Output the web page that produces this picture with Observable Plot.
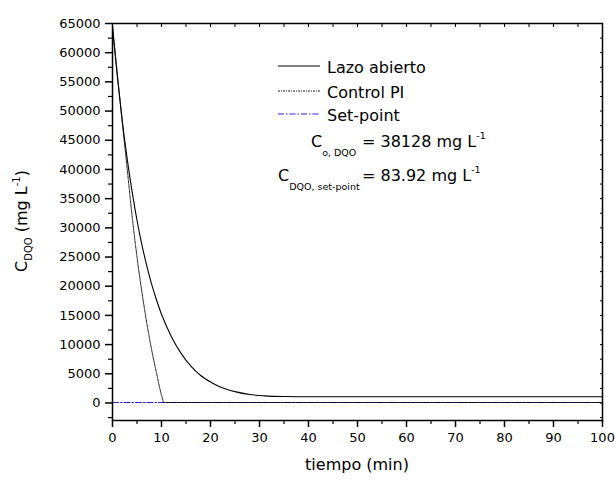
<!DOCTYPE html>
<html>
<head>
<meta charset="utf-8">
<script src="https://cdn.jsdelivr.net/npm/d3@7"></script>
<script src="https://cdn.jsdelivr.net/npm/@observablehq/plot@0.6"></script>
<style>
  html, body { margin: 0; padding: 0; background: #fff; }
  #chart svg { display: block; }
</style>
</head>
<body>
<div id="chart"></div>
<script>
// ---- data ----
// Lazo abierto (open loop)
const lazoT = [0, 1, 2, 3, 4, 5, 6, 7, 8, 9, 10, 12, 14, 16, 18, 20, 22, 25, 28, 31, 35, 40, 50, 60, 70, 80, 90, 100];
const lazoV = [64400, 55800, 48300, 41800, 36200, 31300, 27100, 23500, 20300, 17600, 15200, 11400, 8500, 6300, 4700, 3600, 2750, 1950, 1450, 1220, 1100, 1070, 1060, 1060, 1060, 1060, 1060, 1060];
// Control PI
const piT = [0, 1, 2, 3, 4, 5, 6, 7, 8, 9, 10, 10.5, 20, 40, 60, 80, 100];
const piV = [64400, 56300, 48000, 40100, 32000, 25000, 19000, 13700, 9050, 5050, 1350, 84, 84, 84, 84, 84, 84];
// Set-point
const setT = [0, 100];
const setV = [83.92, 83.92];

// axis ticks
const xTicks = [0, 10, 20, 30, 40, 50, 60, 70, 80, 90, 100];
const xMinor = [5, 15, 25, 35, 45, 55, 65, 75, 85, 95];
const yTicks = [0, 5000, 10000, 15000, 20000, 25000, 30000, 35000, 40000, 45000, 50000, 55000, 60000, 65000];
const yMinor = [-2500, 2500, 7500, 12500, 17500, 22500, 27500, 32500, 37500, 42500, 47500, 52500, 57500, 62500];

// legend / annotation texts
const seriesNames = ["Lazo abierto", "Control PI", "Set-point"];
const coLabel = { main: "C", sub: "o, DQO", rest: "= 38128 mg L", sup: "-1" };
const spLabel = { main: "C", sub: "DQO, set-point", rest: "= 83.92 mg L", sup: "-1" };
const xLabel = "tiempo (min)";

const lazo = lazoT.map((t, i) => ({ t, v: lazoV[i] }));
const pi = piT.map((t, i) => ({ t, v: piV[i] }));
const sp = setT.map((t, i) => ({ t, v: setV[i] }));

const font = '"DejaVu Sans", Verdana, sans-serif';
const blue = "#2020e0";
const piDash = "2,1,1,1";
const spDash = "6,2,1.5,2";

const fmt = d3.format("d");
const blank = () => "";

const plot = Plot.plot({
  width: 615,
  height: 481,
  marginLeft: 112,
  marginRight: 13,
  marginTop: 23,
  marginBottom: 61,
  style: { fontFamily: font, fontSize: "13px", color: "#000", background: "#fff", overflow: "visible" },
  x: { domain: [0, 100] },
  y: { domain: [-3000, 65000] },
  marks: [
    Plot.line(sp, { x: "t", y: "v", stroke: blue, strokeWidth: 1, strokeDasharray: spDash }),
    Plot.line(lazo, { x: "t", y: "v", stroke: "#000", strokeWidth: 1.1, curve: "monotone-x" }),
    Plot.line(pi, { x: "t", y: "v", stroke: "#000", strokeWidth: 0.9, strokeDasharray: piDash, curve: "monotone-x" }),
    Plot.frame({ stroke: "#000", strokeWidth: 1.5 }),
    Plot.axisX(xTicks, { anchor: "bottom", tickSize: 7, tickPadding: 5, tickFormat: fmt, label: null, strokeWidth: 1.5, fontSize: 13 }),
    Plot.axisX(xMinor, { anchor: "bottom", tickSize: 4, tickFormat: blank, label: null, strokeWidth: 1.2 }),
    Plot.axisY(yTicks, { anchor: "left", tickSize: 7, tickPadding: 5, tickFormat: fmt, label: null, strokeWidth: 1.5, fontSize: 13 }),
    Plot.axisY(yMinor, { anchor: "left", tickSize: 4, tickFormat: blank, label: null, strokeWidth: 1.2 }),
    Plot.axisX(xTicks.concat(xMinor), { anchor: "top", tickSize: 3, dy: 3, tickFormat: blank, label: null, strokeWidth: 1 }),
    Plot.axisY(yTicks.concat(yMinor), { anchor: "right", tickSize: 3, dx: -3, tickFormat: blank, label: null, strokeWidth: 1 })
  ]
});

document.getElementById("chart").appendChild(plot);

// ---- legend and annotations ----
const svg = d3.select(plot);
const g = svg.append("g")
  .attr("font-family", font)
  .attr("fill", "#000")
  .attr("text-anchor", "start");

const legendRows = [
  { name: seriesNames[0], y: 66, stroke: "#000", dash: null, w: 1.1 },
  { name: seriesNames[1], y: 91, stroke: "#000", dash: piDash, w: 0.9 },
  { name: seriesNames[2], y: 114, stroke: blue, dash: spDash, w: 1 }
];
legendRows.forEach(r => {
  g.append("line")
    .attr("x1", 278).attr("x2", 320).attr("y1", r.y).attr("y2", r.y)
    .attr("stroke", r.stroke).attr("stroke-width", r.w)
    .attr("stroke-dasharray", r.dash);
  g.append("text")
    .attr("x", 327).attr("y", r.y + 6.5)
    .attr("font-size", 16)
    .text(r.name);
});

function annot(lbl, xC, yBase) {
  const t = g.append("text").attr("y", yBase).attr("font-size", 16).attr("text-anchor", "start");
  t.append("tspan").attr("x", xC).text(lbl.main);
  t.append("tspan").attr("font-size", 9.5).attr("dy", 9).text(lbl.sub);
  t.append("tspan").attr("x", 362).attr("dy", -9).text(lbl.rest);
  t.append("tspan").attr("font-size", 9.5).attr("dy", -8).text(lbl.sup);
}
annot(coLabel, 311, 147);
annot(spLabel, 278, 180.5);

// x axis title
g.append("text")
  .attr("x", 357).attr("y", 470)
  .attr("text-anchor", "middle")
  .attr("font-size", 16)
  .text(xLabel);

// y axis title: C_DQO (mg L^-1)
const yl = g.append("text")
  .attr("transform", "translate(27,221) rotate(-90)")
  .attr("text-anchor", "middle")
  .attr("font-size", 16);
yl.append("tspan").text("C");
yl.append("tspan").attr("font-size", 10).attr("dy", 5).text("DQO");
yl.append("tspan").attr("dy", -5).text(" (mg L");
yl.append("tspan").attr("font-size", 10).attr("dy", -7).text("-1");
yl.append("tspan").attr("dy", 7).text(")");
</script>
</body>
</html>
